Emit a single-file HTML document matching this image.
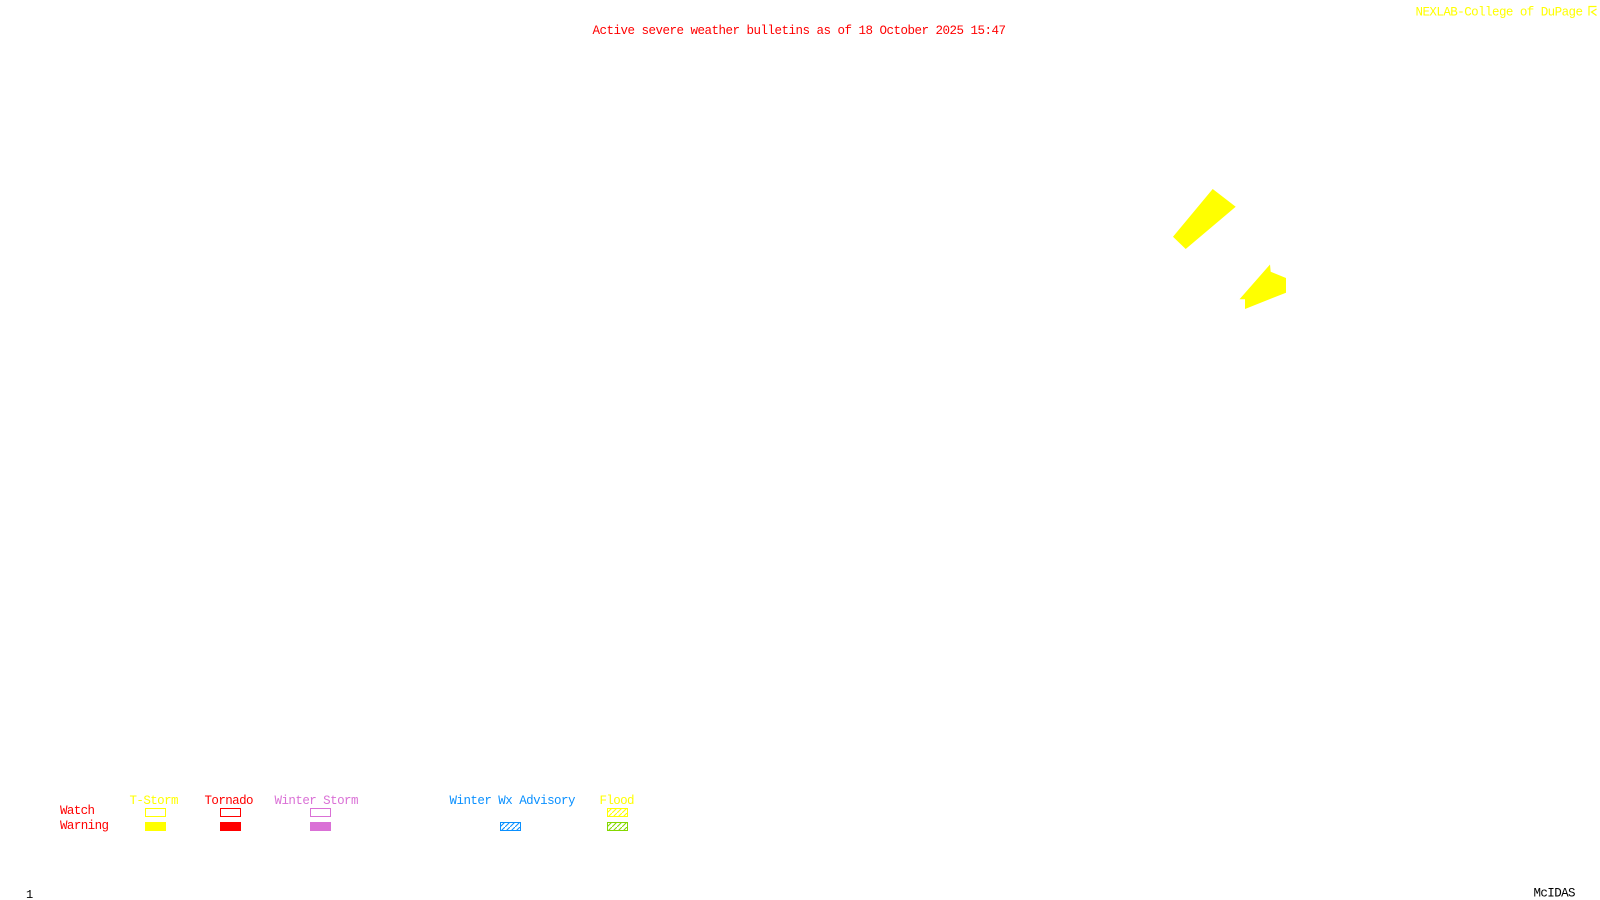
<!DOCTYPE html>
<html lang="en">
<head>
<meta charset="utf-8">
<title>Active severe weather bulletins</title>
<style>
html,body{margin:0;padding:0;background:#fff;width:1600px;height:900px;overflow:hidden}
svg{display:block}
text{font-family:"Liberation Mono",monospace;font-size:12.5px;white-space:pre}
.b{shape-rendering:crispEdges}
</style>
</head>
<body>
<svg width="1600" height="900" viewBox="0 0 1600 900" xmlns="http://www.w3.org/2000/svg">
<defs>
<pattern id="hb" width="5" height="5" patternUnits="userSpaceOnUse" patternTransform="translate(500 822)"><path d="M-1 6L6 -1" stroke="#0a90ff" stroke-width="1.1"/></pattern>
<pattern id="hy" width="5" height="5" patternUnits="userSpaceOnUse" patternTransform="translate(607 808)"><path d="M-1 6L6 -1" stroke="#ffff00" stroke-width="1.1"/></pattern>
<pattern id="hg" width="5" height="5" patternUnits="userSpaceOnUse" patternTransform="translate(607 822)"><path d="M-1 6L6 -1" stroke="#84d800" stroke-width="1.1"/></pattern>
</defs>
<rect width="1600" height="900" fill="#fff"/>

<text x="592.5" y="34" fill="#ff0000" textLength="413.5" lengthAdjust="spacing">Active severe weather bulletins as of 18 October 2025 15:47</text>
<text x="1415.5" y="15.5" fill="#ffff00" textLength="167.5" lengthAdjust="spacing">NEXLAB-College of DuPage</text>
<path d="M1589 15.500V6.500H1596.500M1596.500 9L1591.500 12L1596.500 15.500" fill="none" stroke="#ffff00" stroke-width="1.2"/>

<polygon points="1212.700,189 1235.700,206.700 1185.700,249 1173,236.700" fill="#ffff00"/>
<polygon points="1270,264.500 1270.700,271.700 1286,278 1286,292.700 1245,309 1245,299.300 1239.500,299.300" fill="#ffff00"/>

<text x="129.500" y="804" fill="#ffff00" textLength="49" lengthAdjust="spacing">T-Storm</text>
<text x="204.500" y="804" fill="#ff0000" textLength="49" lengthAdjust="spacing">Tornado</text>
<text x="274.500" y="804" fill="#da70d6" textLength="84" lengthAdjust="spacing">Winter Storm</text>
<text x="449.500" y="804" fill="#0a90ff" textLength="126" lengthAdjust="spacing">Winter Wx Advisory</text>
<text x="599.500" y="804" fill="#ffff00" textLength="35" lengthAdjust="spacing">Flood</text>
<text x="60" y="814" fill="#ff0000" textLength="35" lengthAdjust="spacing">Watch</text>
<text x="60" y="829" fill="#ff0000" textLength="49" lengthAdjust="spacing">Warning</text>

<g class="b">
<rect x="145.500" y="808.500" width="20" height="8" fill="none" stroke="#ffff00"/>
<rect x="145" y="822" width="21" height="9" fill="#ffff00"/>
<rect x="220.500" y="808.500" width="20" height="8" fill="none" stroke="#ff0000"/>
<rect x="220" y="822" width="21" height="9" fill="#ff0000"/>
<rect x="310.500" y="808.500" width="20" height="8" fill="none" stroke="#da70d6"/>
<rect x="310" y="822" width="21" height="9" fill="#da70d6"/>
</g>
<rect x="500.500" y="822.500" width="20" height="8" fill="url(#hb)" stroke="#0a90ff" class="b"/>
<rect x="607.500" y="808.500" width="20" height="8" fill="url(#hy)" stroke="#ffff00" class="b"/>
<rect x="607.500" y="822.500" width="20" height="8" fill="url(#hg)" stroke="#84d800" class="b"/>

<text x="26" y="898" fill="#000000" style="font-size:12px">1</text>
<text x="1533.500" y="896.500" fill="#000000" textLength="42" lengthAdjust="spacing">McIDAS</text>
</svg>
</body>
</html>
